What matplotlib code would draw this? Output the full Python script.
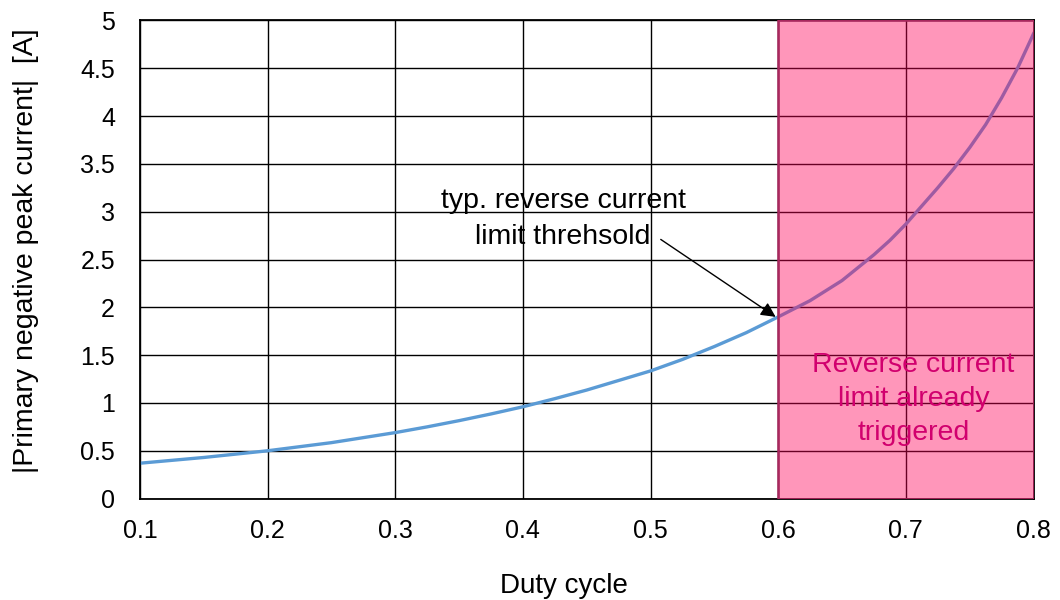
import matplotlib.pyplot as plt
import numpy as np

plt.rcParams['font.family'] = ['Liberation Sans', 'DejaVu Sans']

# primary negative peak current vs duty cycle
duty = [0.1, 0.15, 0.2, 0.25, 0.3, 0.325, 0.35, 0.375, 0.4, 0.425, 0.45,
        0.475, 0.5, 0.525, 0.55, 0.575, 0.6, 0.625, 0.65, 0.675, 0.6875,
        0.7, 0.7125, 0.725, 0.7375, 0.75, 0.7625, 0.775, 0.7875, 0.8]
current = [0.37, 0.43, 0.50, 0.585, 0.69, 0.75, 0.815, 0.885, 0.96, 1.045,
           1.135, 1.235, 1.335, 1.455, 1.59, 1.735, 1.90, 2.07, 2.28, 2.55,
           2.70, 2.87, 3.06, 3.25, 3.45, 3.67, 3.91, 4.19, 4.50, 4.86]

limit_start = 0.6   # reverse current limit kicks in here
limit_end = 0.8

xticks = [0.1, 0.2, 0.3, 0.4, 0.5, 0.6, 0.7, 0.8]
yticks = [0, 0.5, 1, 1.5, 2, 2.5, 3, 3.5, 4, 4.5, 5]

fig = plt.figure(figsize=(10.6, 6), dpi=100)
ax = fig.add_axes([0.132, 0.169, 0.843, 0.797])

ax.plot(duty, current, color='#5B9BD5', lw=2.4, zorder=2)

# shaded area, drawn over grid and curve
ax.axvspan(limit_start, limit_end, facecolor=(1.0, 0.0, 0.35, 0.41),
           edgecolor='#A8285E', lw=1.8, zorder=3)

ax.set_xlim(0.1, 0.8)
ax.set_ylim(0, 5)
ax.set_xticks(xticks)
ax.set_xticklabels(['%g' % t for t in xticks])
ax.set_yticks(yticks)
ax.set_yticklabels(['%g' % t for t in yticks])
ax.tick_params(length=0, labelsize=18)
ax.tick_params(axis='x', pad=15)
ax.tick_params(axis='y', pad=18)
ax.grid(True, color='black', lw=1.0, zorder=1)
ax.set_axisbelow(True)
for s in ax.spines.values():
    s.set_color('black')
    s.set_linewidth(1.3)

ax.set_xlabel('Duty cycle', fontsize=20)
ax.xaxis.set_label_coords(0.474, -0.155)
ax.set_ylabel('|Primary negative peak current|  [A]', fontsize=20.5)
ax.yaxis.set_label_coords(-0.113, 0.519)

# threshold label and arrow
ax.text(0.4315, 2.92, 'typ. reverse current\nlimit threhsold',
        fontsize=20.5, ha='center', va='center', linespacing=1.5, zorder=5)
ax.annotate('', xy=(0.598, 1.90), xytext=(0.508, 2.71),
            arrowprops=dict(arrowstyle='-|>', color='black', lw=1.0,
                            mutation_scale=22, shrinkA=0, shrinkB=0),
            zorder=5)

ax.text(0.706, 1.04, 'Reverse current\nlimit already\ntriggered',
        color='#D1006E', fontsize=20.5, ha='center', va='center',
        linespacing=1.4, zorder=5)

plt.savefig('out.png', dpi=100)
